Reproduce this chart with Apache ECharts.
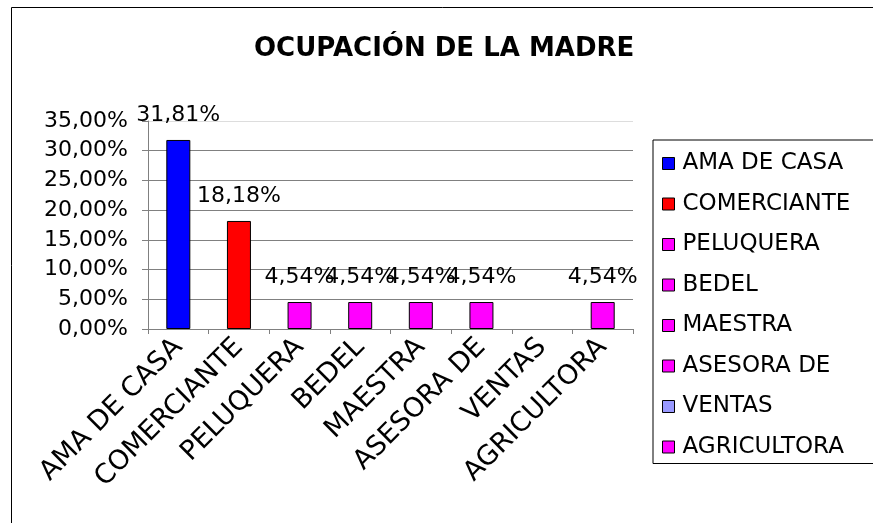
<!DOCTYPE html>
<html>
<head>
<meta charset="utf-8">
<script src="https://cdn.jsdelivr.net/npm/echarts@6/dist/echarts.min.js"></script>
<style>
  html, body { margin: 0; padding: 0; background: #fff; }
  #chart { width: 873px; height: 523px; }
</style>
</head>
<body>
<div id="chart"></div>
<script>
// categorias y valores (%)
var categories = ['AMA DE CASA', 'COMERCIANTE', 'PELUQUERA', 'BEDEL', 'MAESTRA', 'ASESORA DE', 'VENTAS', 'AGRICULTORA']
var values = [31.81, 18.18, 4.54, 4.54, 4.54, 4.54, null, 4.54]
var colors = ['#0000FF', '#FF0000', '#FF00FF', '#FF00FF', '#FF00FF', '#FF00FF', '#9999FF', '#FF00FF']
var yTicks = [0, 5, 10, 15, 20, 25, 30, 35]

var FONT = 'DejaVu Sans'

function pct(v) {
    return v.toFixed(2).replace('.', ',') + '%'
}

// una serie por categoria para que salga en la leyenda
var series = categories.map(function (name, i) {
    var data = categories.map(function (c, j) {
        return (j === i && values[i] != null) ? values[i] : '-'
    })
    return {
        name: name,
        type: 'bar',
        stack: 'total',
        barWidth: 24,
        data: data,
        itemStyle: {
            color: colors[i],
            borderColor: '#000',
            borderWidth: 1
        },
        label: {
            show: true,
            position: 'top',
            distance: 14,
            fontFamily: FONT,
            fontSize: 22,
            color: '#000',
            formatter: function (p) { return pct(p.value) }
        }
    }
})

var option = {
    animation: false,
    backgroundColor: '#fff',
    title: {
        text: 'OCUPACIÓN DE LA MADRE',
        left: 254,
        top: 36,
        padding: 0,
        textStyle: {
            fontFamily: FONT,
            fontSize: 26,
            fontWeight: 'bold',
            color: '#000'
        }
    },
    graphic: [
        {
            type: 'rect',
            shape: { x: 11.5, y: 7.5, width: 1000, height: 1000 },
            style: { fill: 'none', stroke: '#000', lineWidth: 1 },
            silent: true
        }
    ],
    legend: {
        orient: 'vertical',
        left: 653,
        top: 140,
        data: categories,
        itemWidth: 12,
        itemHeight: 12,
        itemGap: 17.5,
        padding: [12, 30, 5, 9],
        borderColor: '#000',
        borderWidth: 1,
        icon: 'rect',
        itemStyle: { borderColor: '#000', borderWidth: 1 },
        textStyle: {
            fontFamily: FONT,
            fontSize: 23,
            lineHeight: 22.5,
            color: '#000',
            padding: [0, 0, 0, 3]
        }
    },
    grid: {
        left: 148,
        right: 240,
        top: 121,
        bottom: 194
    },
    xAxis: {
        type: 'category',
        data: categories,
        axisLine: { lineStyle: { color: '#808080' } },
        axisTick: { show: true, length: 5, lineStyle: { color: '#808080' } },
        axisLabel: {
            interval: 0,
            rotate: 45,
            margin: 14,
            fontFamily: FONT,
            fontSize: 27,
            color: '#000'
        }
    },
    yAxis: {
        type: 'value',
        min: yTicks[0],
        max: yTicks[yTicks.length - 1],
        interval: 5,
        axisLine: { show: true, lineStyle: { color: '#808080' } },
        axisTick: { show: true, length: 6, lineStyle: { color: '#808080' } },
        splitLine: {
            show: true,
            lineStyle: { color: ['#808080', '#808080', '#808080', '#808080', '#808080', '#808080', '#808080', '#dddddd'] }
        },
        axisLabel: {
            margin: 20,
            fontFamily: FONT,
            fontSize: 22,
            color: '#000',
            formatter: function (v) { return pct(v) }
        }
    },
    series: series
}

var chart = echarts.init(document.getElementById('chart'))
chart.setOption(option)
</script>
</body>
</html>
